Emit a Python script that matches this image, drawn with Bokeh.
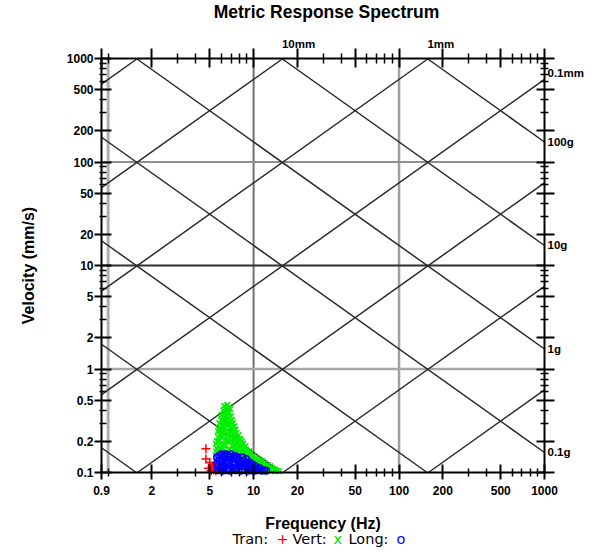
import math
from bokeh.plotting import figure
from bokeh.models import (FixedTicker, LogAxis, Label, CustomJSTickFormatter, Range1d)
from bokeh.embed import file_html
from bokeh.resources import INLINE

# ---------------- data ----------------
TITLE = "Metric Response Spectrum"
X_LABEL = "Frequency (Hz)"
Y_LABEL = "Velocity (mm/s)"

x_major_ticks = [0.9, 2, 5, 10, 20, 50, 100, 200, 500, 1000]
x_minor_ticks = [1, 3, 4, 6, 7, 8, 9, 30, 40, 60, 70, 80, 90, 300, 400, 600, 700, 800, 900]
y_major_ticks = [0.1, 0.2, 0.5, 1, 2, 5, 10, 20, 50, 100, 200, 500, 1000]
y_minor_ticks = [0.3, 0.4, 0.6, 0.7, 0.8, 0.9, 3, 4, 6, 7, 8, 9, 30, 40, 60, 70, 80, 90,
                 300, 400, 600, 700, 800, 900]

grid_freqs = [1, 10, 100]
grid_vels = [1, 10, 100]

accel_levels_g = [0.0001, 0.001, 0.01, 0.1, 1, 10, 100]
accel_right_labels = [(100, "100g"), (10, "10g"), (1, "1g"), (0.1, "0.1g")]
disp_levels_mm = [0.0001, 0.001, 0.01, 0.1, 1, 10, 100]
disp_top_labels = [(10, "10mm"), (1, "1mm")]
disp_right_labels = [(0.1, "0.1mm")]

legend_items = [("Tran:", "black"), ("+", "#ff0000"), ("Vert:", "black"),
                ("x", "#00dd00"), ("Long:", "black"), ("o", "#0000ff")]

# Vert (green x)
vert_f = [5.5, 5.5, 5.6, 5.5, 5.7,
          5.8, 5.8, 5.9, 5.8, 5.9, 5.8,
          6.0, 6.1, 6.0, 6.1, 6.0, 6.2, 6.1,
          6.3, 6.4, 6.3, 6.5, 6.4, 6.3, 6.5, 6.4, 6.3, 6.5,
          6.6, 6.7, 6.8, 6.6, 6.7, 6.8, 6.6, 6.7, 6.8,
          7.0, 7.1, 7.0, 7.2, 7.1, 7.0, 7.2, 7.1,
          7.4, 7.5, 7.6, 7.4, 7.7, 7.5, 7.6,
          7.9, 8.1, 8.3, 8.0, 8.2, 8.1,
          8.5, 8.8, 8.6, 9.0, 8.7,
          9.3, 9.6, 9.9, 9.4, 9.8,
          10.3, 10.7, 11.0, 10.5, 10.9,
          11.5, 12.0, 12.5, 11.8, 12.3,
          13.0, 13.5, 14.0, 14.5, 15.0, 13.2,
          6.2, 6.9, 6.5, 7.3, 7.8, 6.8, 6.1, 7.6, 8.4, 9.1, 6.4, 7.2,
          5.6, 5.9, 6.6, 7.0, 7.4, 8.0, 10.0, 11.2,
          5.6, 5.7, 6.0, 6.2, 6.2, 6.4, 6.6, 6.6, 6.9, 6.9, 7.1, 7.3, 7.3, 7.5,
          7.7, 7.8, 8.0, 8.2, 8.4, 8.9, 9.2, 9.6, 10.1, 10.6, 11.3, 12.0, 12.8,
          14.0, 6.0, 6.3, 5.7]
vert_v = [0.19, 0.16, 0.14, 0.12, 0.22,
          0.30, 0.26, 0.23, 0.20, 0.17, 0.15,
          0.36, 0.33, 0.29, 0.25, 0.22, 0.19, 0.17,
          0.44, 0.41, 0.38, 0.35, 0.31, 0.27, 0.24, 0.21, 0.18, 0.16,
          0.45, 0.42, 0.38, 0.34, 0.30, 0.27, 0.23, 0.20, 0.17,
          0.35, 0.32, 0.29, 0.26, 0.23, 0.20, 0.18, 0.16,
          0.28, 0.26, 0.24, 0.22, 0.20, 0.18, 0.16,
          0.23, 0.21, 0.20, 0.18, 0.17, 0.155,
          0.19, 0.18, 0.165, 0.16, 0.15,
          0.16, 0.155, 0.145, 0.14, 0.135,
          0.14, 0.135, 0.13, 0.125, 0.12,
          0.128, 0.122, 0.118, 0.115, 0.11,
          0.115, 0.11, 0.107, 0.104, 0.103, 0.104,
          0.40, 0.30, 0.20, 0.21, 0.19, 0.25, 0.28, 0.22, 0.175, 0.145, 0.33, 0.30,
          0.17, 0.27, 0.39, 0.25, 0.19, 0.165, 0.125, 0.118,
          0.20, 0.18, 0.26, 0.24, 0.31, 0.37, 0.29, 0.38, 0.22, 0.41, 0.27, 0.24, 0.17, 0.21,
          0.17, 0.21, 0.20, 0.19, 0.16, 0.165, 0.15, 0.14, 0.13, 0.13, 0.12, 0.112, 0.108,
          0.103, 0.32, 0.29, 0.25]

# Tran (red +)
tran_f = [4.7, 4.7, 4.9, 5.0, 5.1, 5.2, 5.3, 5.4, 5.5, 5.6, 10.4]
tran_v = [0.17, 0.135, 0.11, 0.125, 0.104, 0.115, 0.106, 0.12, 0.104, 0.11, 0.106]

# Long (blue o)
long_f = [5.6, 5.6, 5.7, 5.8, 5.9, 6.0, 6.0, 6.1, 6.2, 6.3, 6.4, 6.5, 6.5, 6.7, 6.8,
          6.9, 7.0, 7.1, 7.2, 7.4, 7.5, 7.6, 7.8, 7.9, 8.1, 8.2, 8.4, 8.5, 8.7, 8.9,
          9.0, 9.2, 9.4, 9.6, 9.8, 10.0, 10.3, 10.6, 11.0, 11.4, 11.8, 12.2,
          5.7, 6.2, 6.6, 7.3, 7.7, 8.3, 8.8, 9.5, 6.9, 7.9,
          5.8, 6.1, 6.3, 6.6, 6.8, 7.1, 7.3, 7.6, 8.0, 8.3, 8.6, 9.1, 9.3, 9.7,
          10.2, 10.8, 6.0, 7.4]
long_v = [0.14, 0.12, 0.105, 0.13, 0.11, 0.15, 0.125, 0.104, 0.14, 0.115, 0.15, 0.13, 0.105,
          0.145, 0.12, 0.104, 0.15, 0.135, 0.11, 0.145, 0.125, 0.105, 0.14, 0.115, 0.13, 0.104,
          0.14, 0.12, 0.105, 0.135, 0.115, 0.104, 0.125, 0.11, 0.12, 0.104, 0.115, 0.105, 0.11,
          0.104, 0.105, 0.104,
          0.115, 0.11, 0.12, 0.125, 0.11, 0.115, 0.125, 0.115, 0.14, 0.13,
          0.145, 0.135, 0.145, 0.11, 0.14, 0.12, 0.14, 0.135, 0.12, 0.125, 0.13, 0.125, 0.115,
          0.105, 0.11, 0.11, 0.11, 0.105]

# ---------------- layout ----------------
X0, X1 = 0.9, 1000
Y0, Y1 = 0.1, 1000
G_MM = 9806.65  # 1 g in mm/s^2
W, H = 595, 552
BOX_L, BOX_R, BOX_T, BOX_B = 101, 544, 58, 472   # chart box in canvas pixels

lx0, lx1 = math.log10(X0), math.log10(X1)
ly0, ly1 = math.log10(Y0), math.log10(Y1)
xpd = (BOX_R - BOX_L) / (lx1 - lx0)
ypd = (BOX_B - BOX_T) / (ly1 - ly0)
x_rng = Range1d(10 ** (lx0 - BOX_L / xpd), 10 ** (lx1 + (W - BOX_R) / xpd))
y_rng = Range1d(10 ** (ly0 - (H - BOX_B) / ypd), 10 ** (ly1 + BOX_T / ypd))

p = figure(width=W, height=H, x_axis_type="log", y_axis_type="log",
           x_range=x_rng, y_range=y_rng, x_axis_location=None, y_axis_location=None,
           title=None, output_backend="svg", toolbar_location=None)
p.min_border = 0
p.outline_line_color = None
p.grid.visible = False
p.background_fill_color = "white"
p.border_fill_color = "white"

FONT = "Liberation Sans"


def style_axis(ax, t_in, t_out, m_in, m_out):
    ax.axis_line_width = 2
    ax.axis_line_color = "black"
    ax.major_tick_line_width = 2
    ax.minor_tick_line_width = 1.5
    ax.major_tick_line_color = "black"
    ax.minor_tick_line_color = "black"
    ax.major_tick_in = t_in
    ax.major_tick_out = t_out
    ax.minor_tick_in = m_in
    ax.minor_tick_out = m_out
    ax.major_label_text_font = FONT
    ax.major_label_text_font_style = "bold"
    ax.major_label_text_font_size = "12px"
    ax.major_label_text_color = "black"
    ax.axis_label_text_font = FONT
    ax.axis_label_text_font_style = "bold"
    ax.axis_label_text_font_size = "16px"
    ax.axis_label_text_color = "black"


num_fmt = CustomJSTickFormatter(code="return String(tick);")
blank_fmt = CustomJSTickFormatter(code="return '';")

xb = LogAxis(ticker=FixedTicker(ticks=x_major_ticks, minor_ticks=x_minor_ticks),
             formatter=num_fmt, fixed_location=Y0, bounds=(X0, X1))
style_axis(xb, 8, 7, 4, 4)
xb.major_label_standoff = 6
xb.axis_label = X_LABEL
xb.axis_label_standoff = 17
p.add_layout(xb, "below")

yl = LogAxis(ticker=FixedTicker(ticks=y_major_ticks, minor_ticks=y_minor_ticks),
             formatter=num_fmt, fixed_location=X0, bounds=(Y0, Y1))
style_axis(yl, 10, 7, 5, 2)
yl.major_label_standoff = 1
yl.axis_label = Y_LABEL
yl.axis_label_standoff = 27
p.add_layout(yl, "left")

xa = LogAxis(ticker=FixedTicker(ticks=x_major_ticks, minor_ticks=x_minor_ticks),
             formatter=blank_fmt, fixed_location=Y1, bounds=(X0, X1))
style_axis(xa, 9, 10, 5, 5)
p.add_layout(xa, "above")

yr = LogAxis(ticker=FixedTicker(ticks=y_major_ticks, minor_ticks=y_minor_ticks),
             formatter=blank_fmt, fixed_location=X1, bounds=(Y0, Y1))
style_axis(yr, 8, 10, 4, 4)
p.add_layout(yr, "right")

# grid lines (within chart box)
vstyle = {1: ("#b0b0b0", 3), 10: ("#707070", 2), 100: ("#a0a0a0", 2.5)}
hstyle = {1: ("#a8a8a8", 2.5), 10: ("#303030", 2), 100: ("#909090", 2)}
for f in grid_freqs:
    c, w = vstyle[f]
    p.segment(x0=[f], y0=[Y0], x1=[f], y1=[Y1], line_color=c, line_width=w)
for v in grid_vels:
    c, w = hstyle[v]
    p.segment(x0=[X0], y0=[v], x1=[X1], y1=[v], line_color=c, line_width=w)

# tripartite diagonal lines, clipped to the chart box
xs, ys = [], []
for a in accel_levels_g:
    k = a * G_MM / (2 * math.pi)          # V = k / f
    fa, fb = max(X0, k / Y1), min(X1, k / Y0)
    if fa < fb:
        xs.append([fa, fb])
        ys.append([k / fa, k / fb])
for d in disp_levels_mm:
    k = 2 * math.pi * d                   # V = k * f
    fa, fb = max(X0, Y0 / k), min(X1, Y1 / k)
    if fa < fb:
        xs.append([fa, fb])
        ys.append([k * fa, k * fb])
p.multi_line(xs, ys, line_color="#2a2a2a", line_width=1.5)

# data
p.scatter(vert_f, vert_v, marker="x", size=8, line_color="#00ee00", line_width=1.6)
p.scatter(tran_f, tran_v, marker="cross", size=9, line_color="#ff0000", line_width=1.5)
p.scatter(long_f, long_v, marker="circle", size=6.5, line_color="#0000ff", fill_color=None,
          line_width=1.6)

LBL = dict(text_font=FONT, text_font_style="bold", text_font_size="11.5px", text_color="black")

# right-edge labels
for a, t in accel_right_labels:
    p.add_layout(Label(x=X1, y=a * G_MM / (2 * math.pi * X1), text=t, x_offset=3,
                       text_baseline="middle", text_align="left", **LBL))
for d, t in disp_right_labels:
    p.add_layout(Label(x=X1, y=2 * math.pi * X1 * d, text=t, x_offset=3, y_offset=6,
                       text_baseline="middle", text_align="left", **LBL))
# top labels
for d, t in disp_top_labels:
    p.add_layout(Label(x=Y1 / (2 * math.pi * d), y=Y1, text=t, x_offset=-1, y_offset=15,
                       text_baseline="middle", text_align="left", **LBL))

# title
p.add_layout(Label(x=X0, y=Y1, x_offset=225, y_offset=47, text=TITLE, text_align="center",
                   text_baseline="middle", text_font=FONT, text_font_style="bold",
                   text_font_size="17.5px", text_color="black"))

# legend line
legend_x = [131, 175, 191, 232, 247, 295]
for (t, c), dx in zip(legend_items, legend_x):
    p.add_layout(Label(x=X0, y=Y0, x_offset=dx, y_offset=-66, text=t, text_align="left",
                       text_baseline="middle", text_font="DejaVu Sans",
                       text_font_size="14.5px", text_color=c))

open("out.html", "w").write(file_html(p, INLINE))
